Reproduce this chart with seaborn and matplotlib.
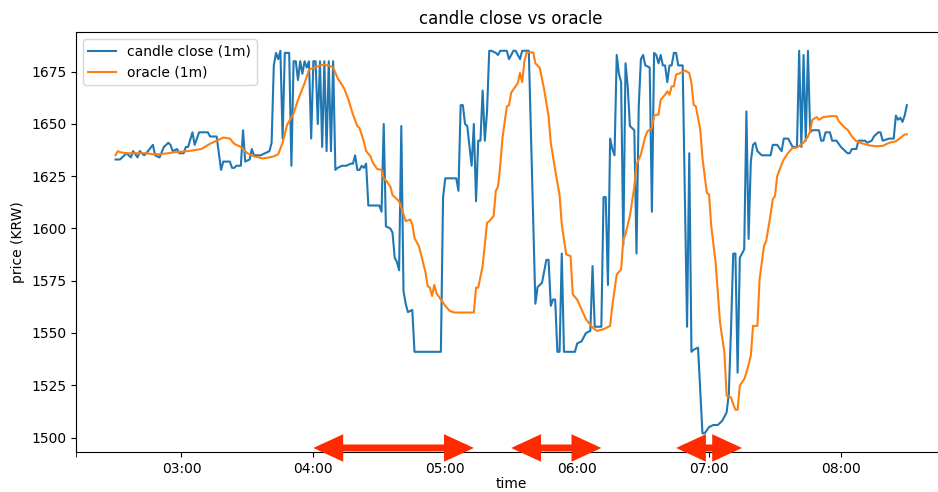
import pandas as pd
import matplotlib.pyplot as plt
import matplotlib.dates as mdates
import seaborn as sns

START = pd.Timestamp("2024-01-01 02:30")

# minutes after 02:30
candle_min = [
    0, 2, 4, 5, 7, 8, 10, 11, 13, 14, 17, 18, 20, 22, 24, 25, 26, 28, 29, 31,
    32, 33, 35, 36, 38, 42, 43, 46, 47, 48, 49, 52, 53, 54, 55, 57, 58, 59, 61, 62,
    63, 66, 70, 71, 72, 73, 74, 75, 76, 77, 79, 80, 81, 82, 83, 84, 85, 86, 87, 88,
    89, 90, 91, 92, 93, 94, 95, 96, 97, 98, 99, 100, 101, 103, 105, 107, 108, 109, 110, 111,
    112, 113, 114, 115, 120, 121, 122, 123, 125, 126, 127, 128, 129, 130, 131, 132, 133, 135, 136, 148,
    149, 150, 155, 156, 157, 158, 159, 160, 162, 163, 164, 165, 166, 167, 168, 169, 170, 171, 173, 174,
    175, 177, 178, 179, 181, 182, 183, 184, 185, 186, 187, 188, 191, 192, 194, 196, 197, 198, 199, 200,
    201, 202, 203, 204, 209, 210, 212, 213, 214, 216, 217, 218, 221, 222, 223, 224, 225, 226, 227, 228,
    229, 230, 231, 232, 233, 234, 236, 237, 238, 239, 240, 241, 243, 244, 245, 246, 247, 248, 249, 250,
    251, 252, 253, 254, 255, 256, 258, 260, 261, 262, 263, 265, 267, 268, 270, 272, 274, 276, 277, 278,
    279, 280, 281, 282, 283, 284, 286, 287, 288, 289, 290, 291, 292, 294, 298, 299, 301, 303, 304, 306,
    308, 310, 311, 312, 313, 314, 315, 316, 317, 320, 321, 322, 323, 325, 326, 328, 330, 333, 334, 335,
    337, 338, 341, 342, 344, 345, 347, 348, 349, 352, 354, 355, 356, 357, 358, 359, 360,
]
candle_val = [
    1633, 1633, 1635, 1636, 1634, 1637, 1634, 1637, 1635, 1636, 1640, 1635, 1634, 1639, 1641, 1640, 1637, 1638, 1636, 1636,
    1639, 1639, 1646, 1640, 1646, 1646, 1644, 1644, 1636, 1628, 1632, 1632, 1629, 1629, 1630, 1630, 1647, 1632, 1633, 1638,
    1635, 1635, 1637, 1641, 1678, 1684, 1681, 1685, 1643, 1684, 1684, 1630, 1680, 1680, 1671, 1680, 1674, 1680, 1677, 1680,
    1643, 1680, 1680, 1650, 1680, 1639, 1680, 1637, 1680, 1637, 1680, 1628, 1629, 1630, 1630, 1631, 1631, 1635, 1628, 1628,
    1630, 1629, 1631, 1611, 1611, 1608, 1650, 1601, 1600, 1598, 1586, 1584, 1580, 1649, 1570, 1564, 1560, 1561, 1541, 1541,
    1615, 1624, 1624, 1618, 1659, 1659, 1650, 1649, 1630, 1650, 1613, 1642, 1642, 1666, 1642, 1656, 1685, 1685, 1684, 1683,
    1685, 1685, 1685, 1681, 1685, 1685, 1683, 1681, 1685, 1685, 1685, 1685, 1564, 1572, 1574, 1585, 1585, 1563, 1566, 1566,
    1541, 1541, 1588, 1541, 1541, 1545, 1546, 1548, 1550, 1551, 1582, 1553, 1553, 1615, 1615, 1573, 1643, 1638, 1635, 1683,
    1674, 1670, 1592, 1679, 1668, 1649, 1647, 1588, 1658, 1681, 1683, 1678, 1677, 1608, 1684, 1683, 1679, 1683, 1678, 1678,
    1670, 1678, 1678, 1684, 1684, 1678, 1678, 1553, 1636, 1541, 1542, 1543, 1502, 1502, 1505, 1506, 1506, 1508, 1510, 1512,
    1521, 1552, 1588, 1588, 1531, 1586, 1590, 1656, 1595, 1632, 1640, 1641, 1637, 1635, 1635, 1640, 1640, 1637, 1643, 1643,
    1639, 1639, 1685, 1639, 1683, 1642, 1685, 1646, 1647, 1647, 1642, 1642, 1646, 1646, 1642, 1642, 1639, 1636, 1636, 1638,
    1638, 1642, 1642, 1641, 1642, 1644, 1646, 1646, 1642, 1643, 1643, 1654, 1652, 1653, 1651, 1654, 1659,
]

oracle_min = [
    0, 1, 2, 5, 8, 11, 14, 17, 20, 24, 27, 33, 39, 43, 46, 49, 52, 54, 57, 58,
    60, 63, 67, 70, 72, 74, 76, 78, 81, 83, 86, 88, 92, 94, 97, 99, 101, 104, 106, 108,
    110, 111, 113, 114, 116, 117, 119, 121, 122, 123, 125, 126, 129, 130, 132, 134, 135, 136, 138, 139,
    141, 142, 143, 144, 145, 146, 148, 150, 152, 154, 163, 164, 165, 167, 168, 169, 170, 172, 173, 174,
    175, 176, 178, 179, 180, 182, 183, 184, 185, 186, 187, 190, 191, 193, 195, 197, 198, 200, 202, 203,
    205, 207, 208, 210, 212, 214, 217, 219, 222, 225, 226, 228, 230, 231, 232, 234, 236, 237, 239, 241,
    242, 244, 245, 247, 248, 250, 251, 252, 253, 254, 255, 257, 259, 261, 262, 263, 264, 266, 267, 269,
    270, 271, 273, 274, 275, 277, 278, 280, 281, 282, 283, 284, 286, 287, 289, 290, 292, 293, 295, 296,
    298, 299, 300, 301, 303, 304, 306, 308, 310, 313, 315, 316, 317, 319, 320, 322, 325, 328, 329, 332,
    333, 335, 337, 340, 343, 346, 349, 352, 355, 357, 359, 360,
]
oracle_val = [
    1635, 1637, 1636.5, 1636, 1636, 1636, 1636, 1635.5, 1635.5, 1636, 1636.5, 1637, 1638, 1640.5, 1642, 1643.5, 1643, 1640.5, 1639, 1638,
    1636, 1634.5, 1633.5, 1634, 1634.5, 1635.5, 1641, 1649.5, 1655, 1661.5, 1669.5, 1676, 1677.5, 1678.3, 1678, 1677, 1672, 1667, 1661.5, 1654.5,
    1649, 1648, 1641.5, 1637, 1634.5, 1631.5, 1628.5, 1628, 1624, 1623, 1620, 1616, 1613, 1610, 1603.5, 1604.3, 1602, 1595.5, 1591.5, 1587.5,
    1579, 1572.5, 1571.7, 1567.7, 1573, 1569, 1566, 1563, 1560.6, 1559.8, 1559.8, 1571.7, 1571.7, 1582, 1592.4, 1602.7, 1603.5, 1606, 1618, 1620,
    1630, 1643, 1658.4, 1659, 1665, 1668, 1669.6, 1674.4, 1670, 1680, 1684.2, 1684.2, 1679, 1676.8, 1666.4, 1653.7, 1641, 1628, 1616, 1602,
    1587.6, 1586.8, 1568.5, 1566, 1561.3, 1556.6, 1552.6, 1551, 1551.8, 1553.4, 1563, 1578, 1580.4, 1594.8, 1597.2, 1606, 1620, 1630.6, 1635.4, 1644,
    1646.5, 1648, 1654, 1654.5, 1661.6, 1664, 1665.6, 1664, 1668, 1668, 1673.6, 1674.4, 1675.6, 1674.4, 1669.6, 1659.2, 1658.4, 1647.3, 1633.8, 1617,
    1616.3, 1601.2, 1583.6, 1569.3, 1555, 1540.6, 1520, 1519.2, 1516, 1513.3, 1513.3, 1524.8, 1528, 1531, 1539, 1553.4, 1553.4, 1575.7, 1591.6, 1594,
    1606.7, 1614, 1615.5, 1625, 1630.6, 1633, 1636.2, 1638.5, 1638.7, 1641, 1644, 1646.5, 1652, 1653.3, 1652, 1653.3, 1653.7, 1653.7, 1651.3, 1648,
    1647.3, 1644, 1641.7, 1640.6, 1639.7, 1639.3, 1639.5, 1641, 1641.7, 1643.3, 1645, 1645,
]

# red double arrows marking the lag windows (start, end)
arrow_spans = [("04:00", "05:13"), ("05:30", "06:11"), ("06:45", "07:15")]
arrow_level = 1495


def at(minutes):
    return START + pd.to_timedelta(minutes, unit="min")


def at_clock(hhmm):
    return pd.Timestamp(f"{START.date()} {hhmm}")


candle = pd.DataFrame({"time": at(candle_min), "price": candle_val})
oracle = pd.DataFrame({"time": at(oracle_min), "price": oracle_val})

fig = plt.figure(figsize=(9.38, 4.92), dpi=100)
ax = fig.add_axes([0.081, 0.081, 0.928, 0.854])

sns.lineplot(data=candle, x="time", y="price", ax=ax, color="#1f77b4",
             linewidth=1.5, label="candle close (1m)")
sns.lineplot(data=oracle, x="time", y="price", ax=ax, color="#ff7f0e",
             linewidth=1.5, label="oracle (1m)")

x_left = at(-18)
ax.set_xlim(x_left, at(378))
ax.set_ylim(1493, 1694)
ax.set_yticks([1500, 1525, 1550, 1575, 1600, 1625, 1650, 1675])
ax.xaxis.set_major_locator(mdates.HourLocator())
ax.xaxis.set_major_formatter(mdates.DateFormatter("%H:%M"))
ax.set_xticks([x_left], minor=True)
ax.tick_params(axis="x", which="minor", length=3.5)
ax.spines["right"].set_visible(False)

for a, b in arrow_spans:
    ax.annotate(
        "", xy=(at_clock(b), arrow_level), xytext=(at_clock(a), arrow_level),
        arrowprops=dict(arrowstyle="<|-|>,head_length=1.3,head_width=0.6",
                        color="#ff2a00", lw=5, mutation_scale=10,
                        shrinkA=0, shrinkB=0, joinstyle="miter"),
        annotation_clip=False,
    )

ax.set_title("candle close vs oracle")
ax.set_xlabel("time", labelpad=1)
ax.set_ylabel("price (KRW)")
ax.legend(loc="upper left")

fig.savefig("out.png", dpi=100)
plt.close(fig)
